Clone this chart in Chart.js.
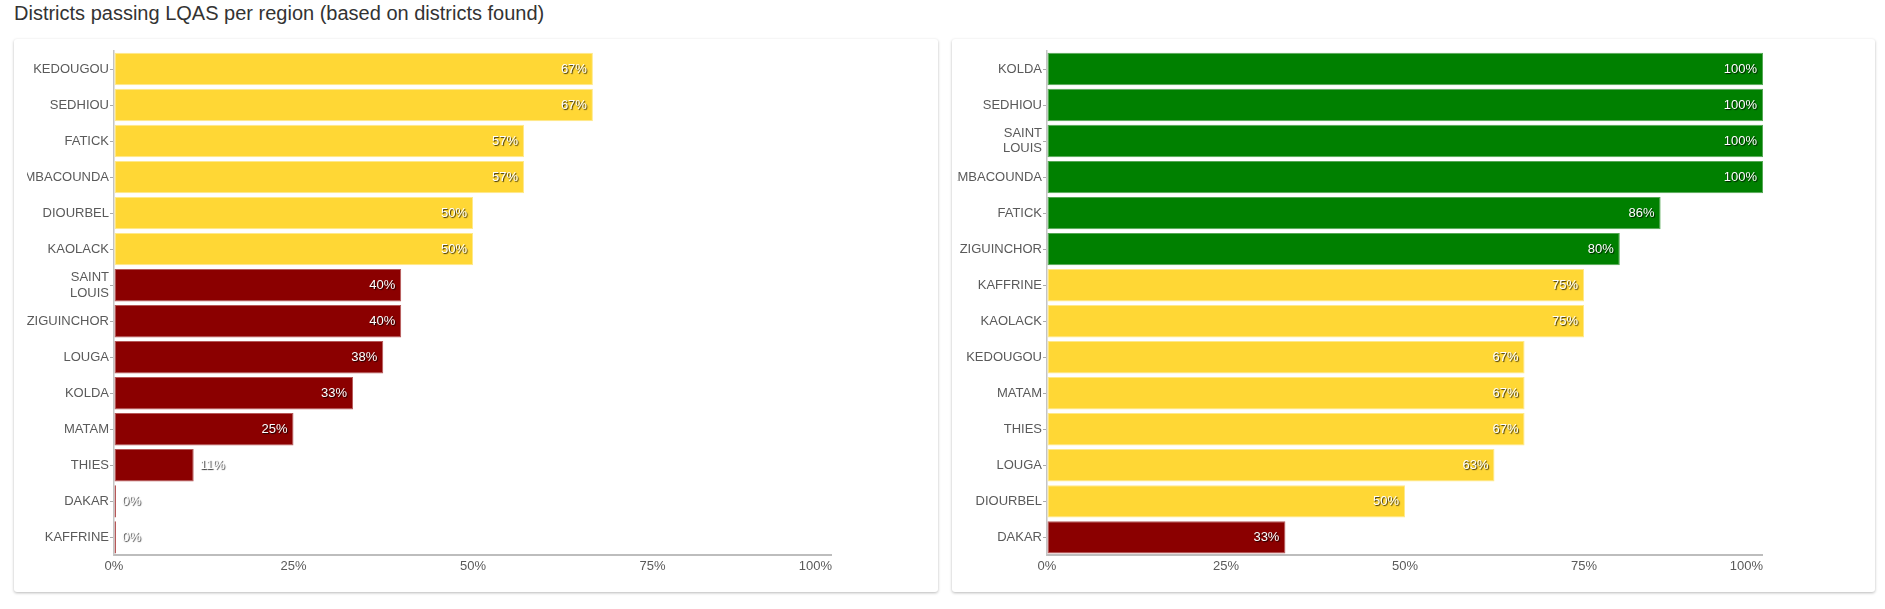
<!DOCTYPE html>
<html>
<head>
<meta charset="utf-8">
<script src="https://cdn.jsdelivr.net/npm/chart.js@4.4.1/dist/chart.umd.min.js"></script>
<style>
  body { margin: 0; background: #fff; font-family: "Liberation Sans", Arial, sans-serif; }
  .title { position: absolute; left: 14px; top: 2px; font-size: 20px; color: #333; }
  .card { position: absolute; top: 39px; height: 553px; background: #fff; border-radius: 3px;
          box-shadow: 0 1px 3px rgba(0,0,0,0.28); }
  .wrap { position: absolute; }
</style>
</head>
<body>
<div class="title">Districts passing LQAS per region (based on districts found)</div>
<div class="card" style="left:14px; width:924px;"></div>
<div class="card" style="left:952px; width:923px;"></div>
<div class="wrap" style="left:27px; top:39px; width:805px; height:545px;"><canvas id="left"></canvas></div>
<div class="wrap" style="left:957px; top:39px; width:806px; height:545px;"><canvas id="right"></canvas></div>
<script>
// left chart: regions (based on districts found)
const leftRegions = ["KEDOUGOU", "SEDHIOU", "FATICK", "TAMBACOUNDA", "DIOURBEL", "KAOLACK",
  ["SAINT", "LOUIS"], "ZIGUINCHOR", "LOUGA", "KOLDA", "MATAM", "THIES", "DAKAR", "KAFFRINE"];
const leftValues = [66.7, 66.7, 57.1, 57.1, 50, 50, 40, 40, 37.5, 33.3, 25, 11.1, 0, 0];

// right chart
const rightRegions = ["KOLDA", "SEDHIOU", ["SAINT", "LOUIS"], "TAMBACOUNDA", "FATICK", "ZIGUINCHOR",
  "KAFFRINE", "KAOLACK", "KEDOUGOU", "MATAM", "THIES", "LOUGA", "DIOURBEL", "DAKAR"];
const rightValues = [100, 100, 100, 100, 85.7, 80, 75, 75, 66.7, 66.7, 66.7, 62.5, 50, 33.3];

const xTicks = [0, 25, 50, 75, 100];

const RED = "#8b0000", YELLOW = "#ffd735", GREEN = "#008000";
const edge = { [RED]: "#b65858", [YELLOW]: "#ffe98a", [GREEN]: "#55a855" };
const FONT = "'Liberation Sans', Arial, sans-serif";
const TICK_COLOR = "#5a5a5a";

function leftColor(v) { return v >= 50 ? YELLOW : RED; }
function rightColor(v) { return v >= 80 ? GREEN : v >= 50 ? YELLOW : RED; }

// draws the "67%" labels at the end of each bar, plus the last x tick label
const barLabels = {
  id: "barLabels",
  afterDatasetsDraw(chart) {
    const ctx = chart.ctx;
    const meta = chart.getDatasetMeta(0);
    const data = chart.data.datasets[0].data;
    ctx.save();
    ctx.font = "13px " + FONT;
    ctx.textBaseline = "middle";
    ctx.fillStyle = "#fff";
    ctx.shadowColor = "rgba(0,0,0,0.8)";
    ctx.shadowOffsetX = 1;
    ctx.shadowOffsetY = 1;
    ctx.shadowBlur = 1;
    meta.data.forEach((bar, i) => {
      const txt = Math.round(data[i]) + "%";
      if (data[i] >= 15) {
        ctx.textAlign = "right";
        ctx.fillText(txt, bar.x - 6, bar.y);
      } else {
        ctx.textAlign = "left";
        ctx.fillText(txt, bar.x + 6, bar.y);
      }
    });
    ctx.restore();

    // last x label sits right-aligned at the axis end
    const x = chart.scales.x;
    const last = xTicks[xTicks.length - 1];
    ctx.save();
    ctx.font = "13px " + FONT;
    ctx.fillStyle = TICK_COLOR;
    ctx.textAlign = "right";
    ctx.textBaseline = "middle";
    ctx.fillText(last + "%", x.getPixelForValue(last), x.top + 11);
    ctx.restore();
  }
};

function makeChart(id, labels, values, colorFn, yWidth) {
  const colors = values.map(colorFn);
  return new Chart(document.getElementById(id), {
    type: "bar",
    data: {
      labels: labels,
      datasets: [{
        data: values,
        backgroundColor: colors,
        borderColor: colors.map(c => edge[c]),
        borderWidth: 1,
        borderSkipped: false,
        barPercentage: 0.9,
        categoryPercentage: 1,
        minBarLength: 2
      }]
    },
    options: {
      indexAxis: "y",
      responsive: true,
      maintainAspectRatio: false,
      animation: false,
      layout: { padding: { top: 12, right: 0, bottom: 7, left: 0 } },
      plugins: { legend: { display: false }, tooltip: { enabled: false } },
      scales: {
        x: {
          min: 0, max: 100,
          afterBuildTicks: (s) => { s.ticks = xTicks.map(v => ({ value: v })); },
          afterFit: (s) => { s.paddingRight = 0; },
          ticks: {
            callback: (v) => v + "%",
            color: (c) => c.index === xTicks.length - 1 ? "rgba(0,0,0,0)" : TICK_COLOR,
            font: { family: FONT, size: 13 },
            maxRotation: 0,
            padding: 3
          },
          grid: { drawOnChartArea: false, tickLength: 0, color: "#bdbdbd" },
          border: { color: "#bdbdbd", width: 2 }
        },
        y: {
          afterFit: (s) => { s.width = yWidth; },
          ticks: {
            color: TICK_COLOR,
            font: { family: FONT, size: 13, lineHeight: 1.2 },
            padding: 1
          },
          grid: { drawOnChartArea: false, offset: false, tickLength: 4, color: "#aaa" },
          border: { color: "#c4c4c4", width: 1.5 }
        }
      }
    },
    plugins: [barLabels]
  });
}

makeChart("left", leftRegions, leftValues, leftColor, 87);
makeChart("right", rightRegions, rightValues, rightColor, 90);
</script>
</body>
</html>
